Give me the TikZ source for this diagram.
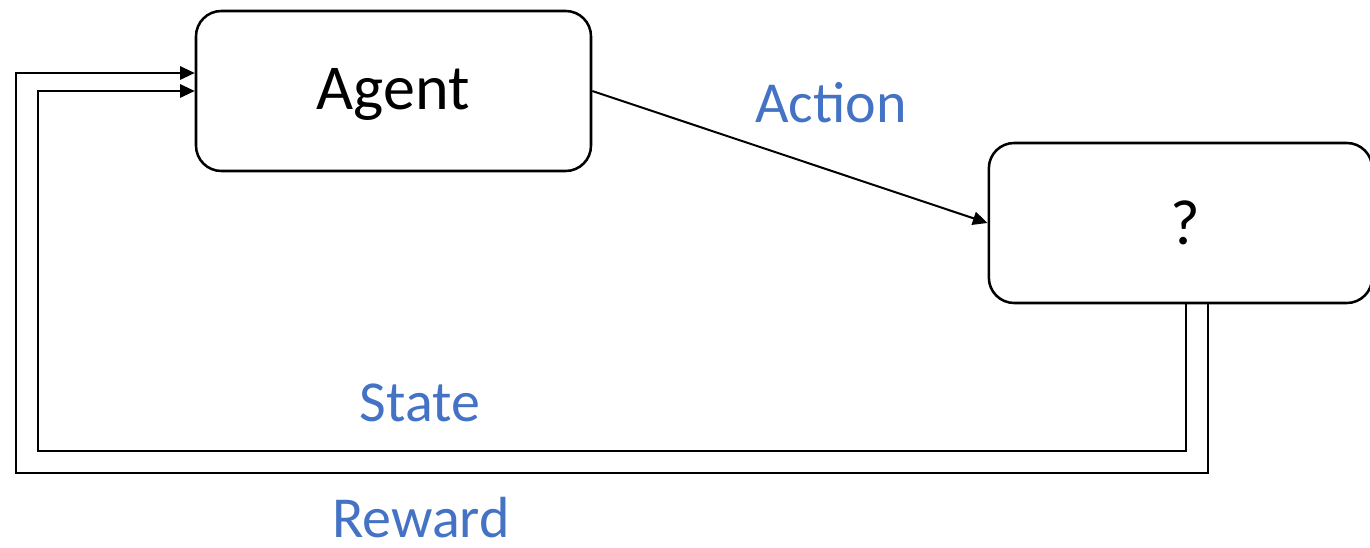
\documentclass[tikz,border=0pt]{standalone}
\usepackage{fontspec}
\setmainfont{Carlito}
\usetikzlibrary{arrows.meta,calc}
\definecolor{lblue}{HTML}{4472C4}
\begin{document}
\begin{tikzpicture}[x=0.75pt,y=-0.75pt,
  box/.style={draw=black,line width=1.9pt,rounded corners=19pt,inner sep=0pt},
  conn/.style={draw=black,line width=1.5pt,-{Triangle[length=11pt,width=10pt]}},
  bigtxt/.style={font=\fontsize{48}{56}\selectfont,inner sep=0pt,anchor=base},
  lbl/.style={font=\fontsize{43.5}{52}\selectfont,text=lblue,inner sep=0pt,anchor=base}]
\useasboundingbox (0,0) rectangle (1370,548);
\node[box,minimum width=296.25pt,minimum height=120pt] (agent) at (393.5,91) {};
\node[box,minimum width=287.5pt,minimum height=120pt] (env) at (1180.5,223) {};
\node[bigtxt] (agentt) at (393,110) {Agent};
\node[bigtxt] (envt) at (1185,245) {?};
\node[lbl] (action) at (831,123) {Action};
\node[lbl] (state) at (420,422) {State};
\node[lbl] (reward) at (421,537) {Reward};
\coordinate (o1) at (1208,303);
\coordinate (o2) at (16,473);
\coordinate (i1) at (1186,303);
\coordinate (i2) at (38,451);
\draw[conn] (agent.east) -- (env.west);
\draw[conn] (o1) |- (o2) |- ($(agent.west)+(0,-18)$);
\draw[conn] (i1) |- (i2) |- (agent.west);
\end{tikzpicture}
\end{document}
